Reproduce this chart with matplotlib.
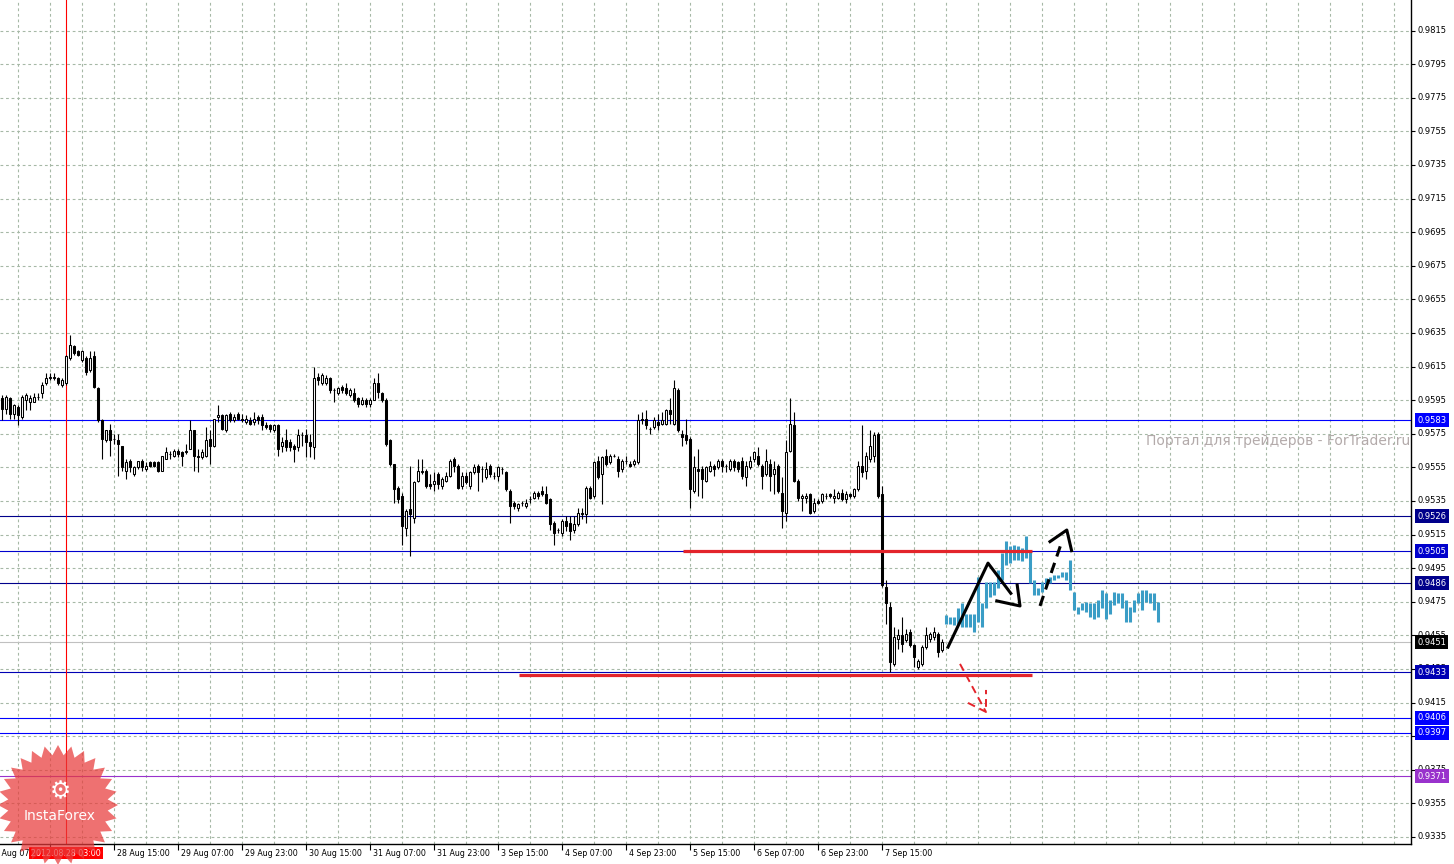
import numpy as np
import matplotlib
matplotlib.use('Agg')
import matplotlib.pyplot as plt
from matplotlib import transforms
from matplotlib.patches import Polygon

# H1 candles, one per bar index (bar 0 = first visible candle)
opens = [
    .9596, .9590, .9596, .9587, .9591, .9585, .9595, .9594, .9594, .9597,
    .9599, .9605, .9609, .9609, .9608, .9604, .9605, .9620, .9627, .9624,
    .9619, .9620, .9613, .9621, .9602, .9583, .9571, .9577, .9572, .9571,
    .9568, .9553, .9559, .9551, .9555, .9559, .9554, .9558, .9558, .9558,
    .9553, .9560, .9563, .9562, .9565, .9564, .9564, .9566, .9577, .9562,
    .9561, .9562, .9572, .9568, .9585, .9586, .9577, .9587, .9583, .9587,
    .9584, .9582, .9583, .9582, .9585, .9585, .9580, .9580, .9577, .9580,
    .9568, .9571, .9570, .9568, .9567, .9574, .9574, .9570, .9567, .9609,
    .9605, .9605, .9608, .9601, .9599, .9603, .9602, .9598, .9599, .9596,
    .9593, .9595, .9593, .9595, .9605, .9599, .9595, .9571, .9557, .9543,
    .9538, .9519, .9530, .9525, .9547, .9552, .9553, .9545, .9545, .9551,
    .9544, .9547, .9550, .9560, .9556, .9544, .9550, .9544, .9552, .9556,
    .9554, .9549, .9556, .9550, .9550, .9554, .9552, .9541, .9534, .9531,
    .9534, .9532, .9536, .9537, .9540, .9541, .9539, .9536, .9522, .9518,
    .9516, .9523, .9522, .9518, .9521, .9528, .9527, .9543, .9538, .9559,
    .9551, .9562, .9558, .9562, .9560, .9554, .9559, .9557, .9557, .9558,
    .9584, .9584, .9578, .9579, .9582, .9581, .9581, .9589, .9581, .9601,
    .9575, .9574, .9572, .9541, .9554, .9554, .9547, .9553, .9556, .9555,
    .9559, .9556, .9554, .9559, .9558, .9559, .9549, .9555, .9560, .9562,
    .9556, .9551, .9557, .9551, .9556, .9540, .9528, .9565, .9580, .9547,
    .9537, .9537, .9539, .9529, .9535, .9535, .9538, .9539, .9537, .9537,
    .9540, .9536, .9539, .9538, .9542, .9556, .9553, .9560, .9562, .9575,
    .9539, .9484, .9472, .9438, .9453, .9455, .9452, .9457, .9449, .9436,
    .9438, .9448, .9453, .9454, .9456, .9446,
]
highs = [
    .9598, .9598, .9597, .9593, .9592, .9598, .9599, .9598, .9599, .9599,
    .9606, .9611, .9611, .9611, .9609, .9608, .9622, .9634, .9628, .9625,
    .9625, .9621, .9624, .9624, .9603, .9584, .9577, .9581, .9575, .9575,
    .9568, .9560, .9560, .9556, .9559, .9560, .9558, .9559, .9559, .9559,
    .9562, .9567, .9565, .9566, .9566, .9565, .9569, .9583, .9577, .9566,
    .9566, .9579, .9577, .9584, .9592, .9587, .9587, .9588, .9587, .9588,
    .9587, .9586, .9585, .9588, .9586, .9587, .9582, .9581, .9581, .9581,
    .9573, .9578, .9572, .9569, .9578, .9576, .9578, .9575, .9615, .9611,
    .9611, .9610, .9609, .9602, .9603, .9604, .9605, .9602, .9602, .9597,
    .9597, .9596, .9596, .9608, .9611, .9600, .9596, .9572, .9557, .9544,
    .9540, .9530, .9556, .9547, .9560, .9560, .9554, .9551, .9552, .9552,
    .9549, .9552, .9560, .9561, .9557, .9552, .9552, .9553, .9557, .9557,
    .9556, .9558, .9557, .9552, .9556, .9555, .9553, .9542, .9535, .9534,
    .9535, .9536, .9538, .9541, .9541, .9544, .9544, .9537, .9523, .9519,
    .9524, .9526, .9526, .9526, .9531, .9531, .9544, .9544, .9559, .9562,
    .9562, .9566, .9563, .9563, .9562, .9560, .9562, .9559, .9560, .9587,
    .9588, .9589, .9579, .9585, .9587, .9588, .9590, .9596, .9607, .9602,
    .9577, .9584, .9573, .9562, .9566, .9556, .9556, .9559, .9557, .9560,
    .9560, .9557, .9560, .9560, .9559, .9561, .9559, .9562, .9565, .9567,
    .9557, .9566, .9560, .9559, .9557, .9549, .9571, .9596, .9588, .9548,
    .9539, .9540, .9540, .9537, .9536, .9540, .9540, .9540, .9542, .9541,
    .9542, .9541, .9540, .9543, .9559, .9580, .9564, .9577, .9576, .9576,
    .9544, .9488, .9475, .9460, .9459, .9466, .9459, .9459, .9450, .9441,
    .9449, .9460, .9457, .9460, .9457, .9453,
]
lows = [
    .9583, .9587, .9584, .9584, .9580, .9584, .9589, .9589, .9594, .9595,
    .9596, .9604, .9607, .9607, .9604, .9603, .9604, .9619, .9622, .9621,
    .9618, .9610, .9612, .9602, .9582, .9560, .9570, .9562, .9569, .9550,
    .9553, .9548, .9552, .9550, .9554, .9553, .9553, .9555, .9555, .9552,
    .9553, .9560, .9560, .9561, .9561, .9556, .9563, .9566, .9553, .9552,
    .9560, .9561, .9557, .9567, .9582, .9577, .9576, .9582, .9582, .9583,
    .9582, .9581, .9580, .9580, .9581, .9577, .9578, .9576, .9576, .9562,
    .9564, .9565, .9565, .9558, .9565, .9568, .9561, .9561, .9560, .9604,
    .9604, .9604, .9599, .9594, .9598, .9599, .9598, .9597, .9594, .9591,
    .9592, .9591, .9591, .9595, .9596, .9594, .9568, .9556, .9534, .9534,
    .9509, .9514, .9502, .9522, .9546, .9551, .9543, .9542, .9541, .9542,
    .9542, .9546, .9549, .9552, .9542, .9542, .9545, .9542, .9551, .9541,
    .9546, .9548, .9549, .9548, .9547, .9551, .9541, .9522, .9530, .9529,
    .9532, .9531, .9534, .9536, .9536, .9538, .9533, .9518, .9509, .9516,
    .9514, .9517, .9512, .9516, .9520, .9524, .9522, .9536, .9537, .9548,
    .9533, .9556, .9557, .9561, .9549, .9552, .9557, .9555, .9556, .9557,
    .9581, .9578, .9575, .9578, .9577, .9580, .9580, .9581, .9580, .9576,
    .9568, .9569, .9531, .9540, .9538, .9537, .9546, .9552, .9550, .9554,
    .9552, .9552, .9553, .9553, .9552, .9548, .9544, .9554, .9558, .9556,
    .9542, .9550, .9541, .9539, .9540, .9519, .9523, .9564, .9546, .9535,
    .9529, .9534, .9527, .9528, .9533, .9534, .9536, .9537, .9534, .9536,
    .9535, .9534, .9537, .9537, .9541, .9549, .9548, .9558, .9558, .9537,
    .9484, .9462, .9433, .9437, .9447, .9445, .9451, .9448, .9436, .9435,
    .9437, .9447, .9451, .9452, .9442, .9445,
]
closes = [
    .9590, .9597, .9587, .9592, .9586, .9597, .9598, .9596, .9597, .9597,
    .9604, .9608, .9608, .9608, .9605, .9607, .9621, .9628, .9623, .9622,
    .9624, .9612, .9620, .9603, .9583, .9572, .9577, .9571, .9572, .9569,
    .9555, .9558, .9555, .9555, .9559, .9555, .9556, .9556, .9556, .9553,
    .9562, .9564, .9563, .9565, .9563, .9562, .9565, .9577, .9562, .9561,
    .9564, .9571, .9568, .9584, .9586, .9578, .9586, .9583, .9585, .9584,
    .9583, .9584, .9581, .9584, .9583, .9580, .9579, .9578, .9580, .9566,
    .9570, .9567, .9567, .9566, .9574, .9574, .9570, .9568, .9608, .9607,
    .9610, .9608, .9601, .9601, .9602, .9601, .9599, .9601, .9595, .9593,
    .9595, .9593, .9595, .9605, .9600, .9595, .9569, .9557, .9542, .9536,
    .9520, .9529, .9527, .9546, .9553, .9553, .9544, .9544, .9547, .9545,
    .9548, .9550, .9559, .9556, .9543, .9550, .9546, .9552, .9555, .9552,
    .9554, .9554, .9551, .9550, .9555, .9554, .9542, .9532, .9532, .9533,
    .9534, .9534, .9536, .9540, .9538, .9539, .9534, .9521, .9516, .9518,
    .9523, .9520, .9517, .9521, .9528, .9527, .9543, .9537, .9558, .9549,
    .9561, .9557, .9562, .9562, .9553, .9559, .9559, .9556, .9559, .9583,
    .9583, .9580, .9578, .9583, .9580, .9583, .9589, .9587, .9602, .9577,
    .9573, .9571, .9542, .9555, .9553, .9548, .9555, .9556, .9554, .9559,
    .9556, .9556, .9559, .9555, .9554, .9550, .9556, .9559, .9564, .9557,
    .9550, .9559, .9550, .9554, .9541, .9529, .9564, .9581, .9547, .9537,
    .9538, .9538, .9528, .9534, .9534, .9539, .9538, .9538, .9538, .9540,
    .9536, .9539, .9538, .9542, .9556, .9552, .9562, .9568, .9574, .9538,
    .9485, .9474, .9439, .9454, .9455, .9450, .9456, .9449, .9442, .9440,
    .9448, .9455, .9456, .9457, .9445, .9451,
]

# projected bars (teal), continuing right after the last candle
proj_highs = [
    .9467, .9466, .9466, .9471, .9474, .9468, .9468, .9468, .9490, .9474,
    .9487, .9487, .9487, .9494, .9504, .9511, .9508, .9509, .9508, .9507,
    .9514, .9505, .9488, .9483, .9487, .9489, .9490, .9491, .9491, .9493,
    .9493, .9500, .9481, .9472, .9474, .9475, .9474, .9474, .9476, .9482,
    .9480, .9476, .9481, .9480, .9480, .9476, .9472, .9476, .9480, .9482,
    .9482, .9480, .9480, .9475,
]
proj_lows = [
    .9462, .9462, .9461, .9462, .9460, .9460, .9460, .9457, .9463, .9460,
    .9471, .9478, .9479, .9483, .9488, .9497, .9498, .9500, .9500, .9499,
    .9501, .9486, .9479, .9479, .9481, .9484, .9486, .9488, .9489, .9490,
    .9488, .9482, .9470, .9468, .9470, .9469, .9466, .9465, .9466, .9471,
    .9465, .9468, .9473, .9474, .9471, .9463, .9463, .9469, .9474, .9470,
    .9475, .9474, .9470, .9463,
]

# horizontal levels and their colours
level_prices = [0.9583, 0.9526, 0.9505, 0.9486, 0.9433, 0.9406, 0.9397, 0.9371]
level_colors = ['#0000FF', '#00008B', '#0000CD', '#00008B', '#0000B4',
                '#0000FF', '#0000FF', '#9932CC']
bid_price = 0.9451

# price scale (0.9395 sits fully under the 0.9397 box, so it is not written)
grid_prices = [round(0.9335 + 0.002 * k, 4) for k in range(25)]
hidden_prices = [0.9395]

# time scale ('27 Aug 23:00' is covered by the cursor label in the original)
time_bars = [-4, 28, 44, 60, 76, 92, 108, 124, 140, 156, 172, 188, 204, 220]
time_labels = ['27 Aug 07:00', '28 Aug 15:00', '29 Aug 07:00',
               '29 Aug 23:00', '30 Aug 15:00', '31 Aug 07:00', '31 Aug 23:00',
               '3 Sep 15:00', '4 Sep 07:00', '4 Sep 23:00', '5 Sep 15:00',
               '6 Sep 07:00', '6 Sep 23:00', '7 Sep 15:00']
cursor_bar = 16
cursor_label = '2012.08.28 03:00'

# hand-drawn objects (bar, price)
red_lines = [((170.25, 0.9505), (257.5, 0.9505)),
             ((129.25, 0.94315), (257.5, 0.94315))]
black_path = [(236.5, 0.9448), (246.5, 0.9498), (252.2, 0.9480)]
black_head = [(248.7, 0.94755), (254.5, 0.94725), (253.8, 0.9485)]
dash_shaft = [(259.5, 0.94725), (264.7, 0.9509)]
dash_head = [(262.0, 0.95108), (266.2, 0.95177), (267.4, 0.95054)]
red_shaft = [(239.5, 0.9438), (246.0, 0.94094)]
red_head = [(241.5, 0.94148), (246.0, 0.94094), (246.0, 0.94225)]

W, H = 1454, 864
X0, X1 = -0.5, 352.25
Y0, Y1 = 0.93308, 0.98332
fig = plt.figure(figsize=(W / 100, H / 100), dpi=100)
fig.patch.set_facecolor('white')
ax = fig.add_axes([0, 20 / H, 1411 / W, 844 / H])
for s in ['top', 'left']:
    ax.spines[s].set_visible(False)
ax.spines['right'].set_linewidth(1.0)
ax.spines['bottom'].set_linewidth(1.0)

# ticks only, labels drawn by hand
ax.yaxis.tick_right()
ax.set_yticks(grid_prices)
ax.set_yticklabels([])
ax.set_xticks([b for b in time_bars if b >= 0] + [cursor_bar - 4])
ax.set_xticklabels([])
ax.tick_params(axis='y', length=3, width=0.8)
ax.tick_params(axis='x', length=4, width=0.8)

# grid
grid_c = '#A6B8A6'
ax.hlines(grid_prices, X0, X1, colors=grid_c, lw=0.8,
          linestyles=(0, (2.5, 2.5)), zorder=0)
ax.vlines(np.arange(4, 353, 8), Y0, Y1, colors=grid_c, lw=0.8,
          linestyles=(0, (2.5, 2.5)), zorder=0)

# levels
for p, c in zip(level_prices, level_colors):
    ax.axhline(p, color=c, lw=0.8, zorder=1)
ax.axhline(bid_price, color='#C0C0C0', lw=0.8, zorder=1)
ax.axvline(cursor_bar, color='#FF0000', lw=0.8, zorder=1.5)

# candles
o = np.array(opens)
h = np.array(highs)
l = np.array(lows)
c = np.array(closes)
bars = np.arange(len(o))
ax.vlines(bars, l, h, color='black', lw=0.8, zorder=3)
up = c >= o
ax.bar(bars[up], c[up] - o[up], bottom=o[up], width=0.5, color='white',
       edgecolor='black', linewidth=0.75, zorder=4)
ax.bar(bars[~up], o[~up] - c[~up], bottom=c[~up], width=0.5, color='black',
       edgecolor='black', linewidth=0.75, zorder=4)

# projected bars
pb = np.arange(len(o), len(o) + len(proj_highs))
ax.vlines(pb, proj_lows, proj_highs, color='#3A9DC6', lw=2.2, zorder=3)

# drawn objects
for (x0, y0), (x1, y1) in red_lines:
    ax.plot([x0, x1], [y0, y1], color='#E3242B', lw=2.3, zorder=5,
            solid_capstyle='butt')
ax.plot(*zip(*black_path), color='black', lw=2.2, zorder=6)
ax.plot(*zip(*black_head), color='black', lw=2.2, zorder=6)
ax.plot(*zip(*dash_shaft), color='black', lw=2.2, zorder=6,
        linestyle=(0, (3.5, 2.2)))
ax.plot(*zip(*dash_head), color='black', lw=2.2, zorder=6)
ax.plot(*zip(*red_shaft), color='#E3242B', lw=1.4, zorder=6,
        linestyle=(0, (4, 2.5)))
ax.plot(*zip(*red_head), color='#E3242B', lw=1.4, zorder=6,
        linestyle=(0, (4, 2.5)))

# limits last, after all ticks are set
ax.set_xlim(X0, X1)
ax.set_ylim(Y0, Y1)

# price labels
ty = transforms.blended_transform_factory(ax.transAxes, ax.transData)
lx = 1 + 6 / 1411
fs = 6.0
for p in grid_prices:
    if p in hidden_prices:
        continue
    ax.text(lx, p, f'{p:.4f}', transform=ty, ha='left', va='center',
            fontsize=fs, color='black', clip_on=False, zorder=7)
for p, col in zip(level_prices, level_colors):
    ax.text(lx, p, f'{p:.4f}', transform=ty, ha='left', va='center',
            fontsize=fs, color='white', clip_on=False, zorder=8,
            bbox=dict(boxstyle='square,pad=0.3', fc=col, ec='none'))
ax.text(lx, bid_price, f'{bid_price:.4f}', transform=ty, ha='left',
        va='center', fontsize=fs, color='white', clip_on=False, zorder=8,
        bbox=dict(boxstyle='square,pad=0.3', fc='black', ec='none'))

# time labels
tx = transforms.blended_transform_factory(ax.transData, ax.transAxes)
for b, t in zip(time_bars, time_labels):
    ax.text(b + 0.75, -9 / 844, t, transform=tx, ha='left', va='center',
            fontsize=5.7, color='black', clip_on=False, zorder=7)
ax.text(cursor_bar, -9 / 844, cursor_label, transform=tx, ha='center',
        va='center', fontsize=5.7, color='white', clip_on=False, zorder=9,
        bbox=dict(boxstyle='square,pad=0.25', fc='#FF0000', ec='none'))

# watermark
fig.text(1410 / W, 1 - 441 / H, 'Портал для трейдеров - ForTrader.ru',
         ha='right', va='center', fontsize=10, color='#B3AAAA')

# InstaForex badge
cx, cy, r_out, r_in, n = 58, H - 805, 60, 50, 28
ang = np.pi / 2 + np.arange(2 * n) * np.pi / n
rad = np.where(np.arange(2 * n) % 2 == 0, r_out, r_in)
pts = np.column_stack([(cx + rad * np.cos(ang)) / W, (cy + rad * np.sin(ang)) / H])
fig.add_artist(Polygon(pts, closed=True, transform=fig.transFigure,
                       fc='#E83A3A', ec='none', alpha=0.72, zorder=10))
fig.text(60 / W, 1 - 791 / H, '\u2699', ha='center', va='center',
         fontsize=17, color='white', zorder=11)
fig.text(60 / W, 1 - 816 / H, 'InstaForex', ha='center', va='center',
         fontsize=10, color='white', zorder=11)

fig.savefig('out.png', dpi=100, facecolor='white')
